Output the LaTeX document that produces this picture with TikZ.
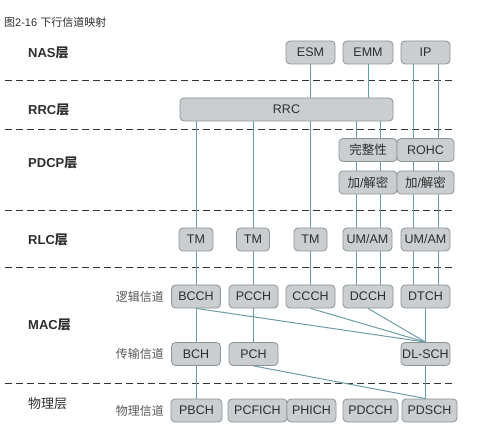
\documentclass[tikz,border=0pt]{standalone}
\usepackage{fontspec}
\setmainfont{Liberation Sans}
\newfontfamily\cjk{Noto Sans CJK SC}
\definecolor{boxfill}{HTML}{CBCED0}
\definecolor{boxline}{HTML}{8A9499}
\definecolor{linkcol}{HTML}{6E9CA4}
\definecolor{txt}{HTML}{2E2E2E}
\definecolor{sepcol}{HTML}{333333}
\tikzset{
  box/.style={draw=boxline, fill=boxfill, rounded corners=4pt, line width=0.8pt,
    minimum height=23pt, inner sep=0pt, text=txt, font=\fontsize{12.5}{14}\selectfont},
  link/.style={draw=linkcol, line width=1pt},
  sepline/.style={draw=sepcol, line width=1pt, dash pattern=on 7pt off 4pt},
  layerlbl/.style={anchor=west, inner sep=0pt, text=txt, font=\fontsize{13}{15}\selectfont\bfseries},
  chanlbl/.style={anchor=east, inner sep=0pt, text=txt!80, font=\fontsize{12}{14}\selectfont\cjk},
}
\begin{document}
\begin{tikzpicture}[x=1pt,y=-1pt]
\useasboundingbox (0,0) rectangle (500,435);
% title
\node[anchor=west, inner sep=0pt, text=txt, font=\fontsize{11}{13}\selectfont] (title) at (4,22) {{\cjk 图}2-16 {\cjk 下行信道映射}};
% separators
\draw[sepline] (5,81) -- (455,81);
\draw[sepline] (5,130) -- (455,130);
\draw[sepline] (5,211) -- (455,211);
\draw[sepline] (5,268) -- (455,268);
\draw[sepline] (5,383) -- (455,383);
% layer labels
\node[layerlbl] (lnas) at (28,53) {NAS{\cjk 层}};
\node[layerlbl] (lrrc) at (28,110) {RRC{\cjk 层}};
\node[layerlbl] (lpdcp) at (28,163) {PDCP{\cjk 层}};
\node[layerlbl] (lrlc) at (28,240) {RLC{\cjk 层}};
\node[layerlbl] (lmac) at (28,325) {MAC{\cjk 层}};
\node[layerlbl, font=\fontsize{13}{15}\selectfont\cjk] (lphy) at (28,404) {物理层};
% channel labels
\node[chanlbl] (clog) at (164,297) {逻辑信道};
\node[chanlbl] (ctr) at (164,354) {传输信道};
\node[chanlbl] (cph) at (164,410.5) {物理信道};
% NAS
\node[box, minimum width=49pt] (esm) at (310.5,52.5) {ESM};
\node[box, minimum width=50pt] (emm) at (368,52.5) {EMM};
\node[box, minimum width=49pt] (ip) at (425.5,52.5) {IP};
% RRC
\node[box, minimum width=213pt] (rrc) at (286.5,109.5) {RRC};
% PDCP
\node[box, minimum width=58pt, font=\fontsize{12.5}{14}\selectfont\cjk] (int) at (368,150) {完整性};
\node[box, minimum width=57pt] (rohc) at (425.5,150) {ROHC};
\node[box, minimum width=58pt] (enc1) at (368,182.5) {{\cjk 加}/{\cjk 解密}};
\node[box, minimum width=57pt] (enc2) at (425.5,182.5) {{\cjk 加}/{\cjk 解密}};
% RLC
\node[box, minimum width=34pt] (tm1) at (196,239.5) {TM};
\node[box, minimum width=33pt] (tm2) at (253,239.5) {TM};
\node[box, minimum width=33pt] (tm3) at (310.5,239.5) {TM};
\node[box, minimum width=49pt] (um1) at (367.5,239.5) {UM/AM};
\node[box, minimum width=49pt] (um2) at (425.5,239.5) {UM/AM};
% MAC logical
\node[box, minimum width=49pt] (bcch) at (196,296.5) {BCCH};
\node[box, minimum width=49pt] (pcch) at (253.5,296.5) {PCCH};
\node[box, minimum width=49pt] (ccch) at (310.5,296.5) {CCCH};
\node[box, minimum width=50pt] (dcch) at (368,296.5) {DCCH};
\node[box, minimum width=49pt] (dtch) at (425.5,296.5) {DTCH};
% MAC transport
\node[box, minimum width=49pt] (bch) at (196,354) {BCH};
\node[box, minimum width=49pt] (pch) at (253.5,354) {PCH};
\node[box, minimum width=49pt] (dlsch) at (425.5,354) {DL-SCH};
% PHY
\node[box, minimum width=51pt] (pbch) at (196.5,410.5) {PBCH};
\node[box, minimum width=59pt] (pcfich) at (257.5,410.5) {PCFICH};
\node[box, minimum width=49pt] (phich) at (311.5,410.5) {PHICH};
\node[box, minimum width=55pt] (pdcch) at (370.5,410.5) {PDCCH};
\node[box, minimum width=55pt] (pdsch) at (429.5,410.5) {PDSCH};
% column coordinates
\coordinate (cA) at (196,0);
\coordinate (cB) at (253,0);
\coordinate (cC) at (310.5,0);
\coordinate (cM) at (368,0);
\coordinate (cD1) at (356,0);
\coordinate (cD2) at (380,0);
\coordinate (cE1) at (413,0);
\coordinate (cE2) at (438,0);
\coordinate (cF) at (425.5,0);
\begin{scope}[on background layer/.style={}]
% column A
\draw[link] (cA |- rrc.south) -- (cA |- tm1.north);
\draw[link] (cA |- tm1.south) -- (cA |- bcch.north);
\draw[link] (cA |- bcch.south) -- (cA |- bch.north);
\draw[link] (cA |- bch.south) -- (cA |- pbch.north);
% column B
\draw[link] (cB |- rrc.south) -- (cB |- tm2.north);
\draw[link] (cB |- tm2.south) -- (cB |- pcch.north);
\draw[link] (cB |- pcch.south) -- (cB |- pch.north);
% column C
\draw[link] (cC |- esm.south) -- (cC |- rrc.north);
\draw[link] (cC |- rrc.south) -- (cC |- tm3.north);
\draw[link] (cC |- tm3.south) -- (cC |- ccch.north);
% EMM
\draw[link] (cM |- emm.south) -- (cM |- rrc.north);
% columns D
\foreach \c in {cD1,cD2} {
  \draw[link] (\c |- rrc.south) -- (\c |- int.north);
  \draw[link] (\c |- int.south) -- (\c |- enc1.north);
  \draw[link] (\c |- enc1.south) -- (\c |- um1.north);
  \draw[link] (\c |- um1.south) -- (\c |- dcch.north);
}
% columns E
\foreach \c in {cE1,cE2} {
  \draw[link] (\c |- ip.south) -- (\c |- rohc.north);
  \draw[link] (\c |- rohc.south) -- (\c |- enc2.north);
  \draw[link] (\c |- enc2.south) -- (\c |- um2.north);
  \draw[link] (\c |- um2.south) -- (\c |- dtch.north);
}
% MAC mapping
\draw[link] (bcch.south) -- (dlsch.north);
\draw[link] (ccch.south) -- (dlsch.north);
\draw[link] (dcch.south) -- (dlsch.north);
\draw[link] (dtch.south) -- (dlsch.north);
\draw[link] (pch.south) -- (cF |- pdsch.north);
\draw[link] (dlsch.south) -- (cF |- pdsch.north);
\end{scope}
\end{tikzpicture}
\end{document}
